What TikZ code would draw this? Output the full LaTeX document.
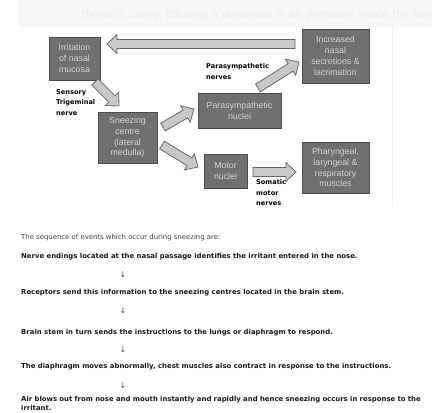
\documentclass[tikz,border=0pt]{standalone}
\usepackage{fontspec}
\setmainfont{Liberation Sans}
\newfontfamily\verd{DejaVu Sans}
\usetikzlibrary{calc}

\definecolor{boxfill}{HTML}{707070}
\definecolor{boxline}{HTML}{4C4C4C}
\definecolor{boxtext}{HTML}{D2D2D2}
\definecolor{arrfill}{HTML}{C9C9C9}
\definecolor{arrline}{HTML}{666666}

\tikzset{
  box/.style={draw=boxline, line width=1pt, fill=boxfill, text=boxtext, inner sep=0pt,
    align=center, font=\fontsize{8.8}{10.8}\selectfont},
  lbl/.style={anchor=north west, align=left, inner sep=0pt, text=black,
    font=\verd\bfseries\fontsize{6.6}{10.8}\selectfont},
  fatarrow/.style={draw=arrline, line width=0.8pt, fill=arrfill, line join=miter},
  seq/.style={anchor=west, inner sep=0pt, text=black!90, font=\verd\bfseries\fontsize{6.9}{9.5}\selectfont},
  down/.style={inner sep=0pt, text=black!70, font=\verd\fontsize{8}{9}\selectfont}
}

% block arrow: name, start, end
\newcommand{\fatarrow}[3]{%
  \coordinate (#1-h) at ($(#3)!10pt!(#2)$);
  \draw[fatarrow] ($(#2)!4.5pt!90:(#3)$) -- ($(#1-h)!4.5pt!90:(#3)$) -- ($(#1-h)!9.5pt!90:(#3)$)
    -- (#3) -- ($(#1-h)!9.5pt!-90:(#3)$) -- ($(#1-h)!4.5pt!-90:(#3)$) -- ($(#2)!4.5pt!-90:(#3)$) -- cycle;
}

\begin{document}
\begin{tikzpicture}[x=1pt, y=-1pt]
\useasboundingbox (0,0) rectangle (432,413);
% faint page behind
\fill[black!3] (18,0) rectangle (432,27);
\begin{scope}
\clip (0,0) rectangle (432,27);
\node[anchor=west, inner sep=0pt, text=black!7, font=\fontsize{12.3}{14}\selectfont] (ghost) at (82,15)
  {thoracic cavity, causing a decrease in air pressure inside the lungs};
\end{scope}
\draw[black!6, line width=0.6pt] (392,25) -- (392,205);

% boxes
\node[box, minimum width=51pt, minimum height=43pt] (irr) at (74.5,58.5) {Irritation\\of nasal\\mucosa};
\node[box, minimum width=59pt, minimum height=51pt] (snz) at (127.5,137.5) {Sneezing\\centre\\(lateral\\medulla)};
\node[box, minimum width=83pt, minimum height=35pt] (pnuc) at (239.5,110.5) {Parasympathetic\\nuclei};
\node[box, minimum width=43pt, minimum height=34pt] (mnuc) at (225.5,171) {Motor\\nuclei};
\node[box, minimum width=67pt, minimum height=54pt] (incr) at (335.5,56) {Increased\\nasal\\secretions \&\\lacrimation};
\node[box, minimum width=67pt, minimum height=51pt] (phar) at (335.5,167.5) {Pharyngeal,\\laryngeal \&\\respiratory\\muscles};

% arrow ends
\coordinate (back-s) at (295,44);
\coordinate (back-e) at (107,44);
\coordinate (sens-s) at (95,82);
\coordinate (sens-e) at (119,106);
\coordinate (para-s) at (163,127);
\coordinate (para-e) at (194,109);
\coordinate (mot-s) at (162,145);
\coordinate (mot-e) at (198,167);
\coordinate (pn-s) at (258,88);
\coordinate (pn-e) at (299,62);
\coordinate (som-s) at (253,172);
\coordinate (som-e) at (296,172);

\fatarrow{back}{back-s}{back-e}
\fatarrow{sens}{sens-s}{sens-e}
\fatarrow{para}{para-s}{para-e}
\fatarrow{mot}{mot-s}{mot-e}
\fatarrow{pn}{pn-s}{pn-e}
\fatarrow{som}{som-s}{som-e}

% nerve labels
\node[lbl] (l-sens) at (56,89) {Sensory\\Trigeminal\\nerve};
\node[lbl] (l-para) at (206,63) {Parasympathetic\\nerves};
\node[lbl] (l-som) at (256,179) {Somatic\\motor\\nerves};

% sequence text
\node[seq, font=\verd\fontsize{6.9}{9.5}\selectfont, text=black!75] (t0) at (21,238)
  {The sequence of events which occur during sneezing are:};
\node[seq] (t1) at (21,257) {Nerve endings located at the nasal passage identifies the irritant entered in the nose.};
\node[down] (d1) at (123,275) {↓};
\node[seq] (t2) at (21,293) {Receptors send this information to the sneezing centres located in the brain stem.};
\node[down] (d2) at (123,311) {↓};
\node[seq] (t3) at (21,333) {Brain stem in turn sends the instructions to the lungs or diaphragm to respond.};
\node[down] (d3) at (123,350) {↓};
\node[seq] (t4) at (21,367) {The diaphragm moves abnormally, chest muscles also contract in response to the instructions.};
\node[down] (d4) at (123,386) {↓};
\node[seq, anchor=north west, align=left, text width=410pt] (t5) at (21,396)
  {Air blows out from nose and mouth instantly and rapidly and hence sneezing occurs in response to the irritant.};
\end{tikzpicture}
\end{document}
